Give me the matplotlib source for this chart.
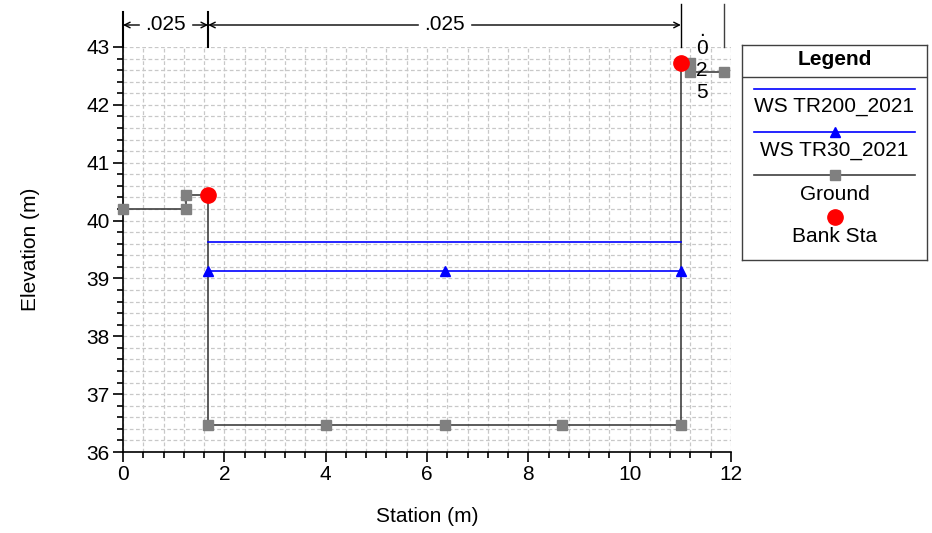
import matplotlib
matplotlib.use("Agg")
import matplotlib.pyplot as plt
from matplotlib.ticker import MultipleLocator

plt.rcParams['font.family'] = ['Liberation Sans', 'DejaVu Sans']

# Data
ground_x = [0.0, 1.25, 1.25, 1.68, 1.68, 4.01, 6.35, 8.67, 11.01, 11.01, 11.19, 11.19, 11.87]
ground_y = [40.20, 40.20, 40.44, 40.44, 36.47, 36.47, 36.47, 36.47, 36.47, 42.72, 42.72, 42.57, 42.57]
ws200_x = [1.68, 11.01]
ws200_y = [39.63, 39.63]
ws30_x = [1.68, 6.35, 11.01]
ws30_y = [39.13, 39.13, 39.13]
bank_x = [1.68, 11.01]
bank_y = [40.44, 42.72]
n_breaks = [0.0, 1.68, 11.01, 11.87]
n_labels = [".025", ".025", ".025"]
legend_labels = ["WS TR200_2021", "WS TR30_2021", "Ground", "Bank Sta"]

W, H = 932, 533
FS = 15
fig = plt.figure(figsize=(W/100, H/100), dpi=100)
ax = fig.add_axes([123/W, 1-452/H, (731-123)/W, (452-47)/H])

ax.plot(ground_x, ground_y, color='#404040', lw=1.2, zorder=3)
ax.plot(ground_x, ground_y, ls='none', marker='s', ms=7, color='#808080', zorder=4, clip_on=False)
ax.plot(ws200_x, ws200_y, color='#0000ff', lw=1.2, zorder=3)
ax.plot(ws30_x, ws30_y, color='#0000ff', lw=1.2, marker='^', ms=7, zorder=3, clip_on=False)
ax.plot(bank_x, bank_y, ls='none', marker='o', ms=11, color='#ff0000', zorder=5, clip_on=False)

ax.set_xlim(0, 12)
ax.set_ylim(36, 43)
ax.xaxis.set_major_locator(MultipleLocator(2))
ax.xaxis.set_minor_locator(MultipleLocator(0.4))
ax.yaxis.set_major_locator(MultipleLocator(1))
ax.yaxis.set_minor_locator(MultipleLocator(0.2))
ax.grid(True, which='both', color='#c8c8c8', ls='--', lw=0.9, dashes=(3, 2))
ax.set_axisbelow(True)
for s in ['top', 'right']:
    ax.spines[s].set_visible(False)
ax.spines['left'].set_linewidth(1.2)
ax.spines['bottom'].set_linewidth(1.2)
ax.tick_params(which='major', direction='out', length=7.5, width=1.2, labelsize=FS, pad=2)
ax.tick_params(which='minor', direction='out', length=4, width=1.2)
fig.text(427/W, 1-517/H, "Station (m)", ha='center', va='center', fontsize=FS)
fig.text(30/W, 1-249/H, "Elevation (m)", ha='center', va='center', fontsize=FS, rotation=90)

# Manning's n annotations above plot
trans = ax.get_xaxis_transform()
def ay(ypx):
    return (452 - ypx) / 405
ax.plot([0, 0], [1, ay(12)], transform=trans, color='black', lw=1.5, clip_on=False)
ax.plot([n_breaks[1]]*2, [1, ay(12)], transform=trans, color='black', lw=1.5, clip_on=False)
ax.plot([n_breaks[2]]*2, [1, ay(4)], transform=trans, color='black', lw=1.0, clip_on=False)
ax.plot([n_breaks[3]]*2, [1, ay(4)], transform=trans, color='#404040', lw=1.0, clip_on=False)
for i in range(2):
    x0, x1 = n_breaks[i], n_breaks[i+1]
    ax.annotate("", xy=(x0, ay(25)), xytext=(x1, ay(25)), xycoords=trans, textcoords=trans,
                arrowprops=dict(arrowstyle='<->', lw=1.0, color='black', shrinkA=0, shrinkB=0),
                annotation_clip=False)
    ax.text((x0+x1)/2, ay(25), n_labels[i], transform=trans, ha='center', va='center',
            fontsize=FS, backgroundcolor='white', clip_on=False, zorder=6)
for ch, ypx in zip(n_labels[2][:4], [30, 48, 70, 92]):
    ax.text(11.43, ay(ypx), ch, transform=trans, ha='center', va='center',
            fontsize=FS, clip_on=False, zorder=6)

# Legend box
lax = fig.add_axes([742/W, 1-260/H, (927-742)/W, (260-45)/H])
lax.set_xlim(0, 185)
lax.set_ylim(215, 0)
lax.set_xticks([]); lax.set_yticks([])
for s in lax.spines.values():
    s.set_linewidth(1.0)
    s.set_color('#404040')
lax.axhline(32, color='#404040', lw=1.0)
cx = 92.5
lax.text(cx, 15, "Legend", ha='center', va='center', fontsize=FS, fontweight='bold')
lax.plot([12, 173], [44, 44], color='#0000ff', lw=1.2)
lax.text(cx, 62, legend_labels[0], ha='center', va='center', fontsize=FS)
lax.plot([12, 173], [87, 87], color='#0000ff', lw=1.2)
lax.plot([cx], [87], marker='^', ms=7, color='#0000ff')
lax.text(cx, 106, legend_labels[1], ha='center', va='center', fontsize=FS)
lax.plot([12, 173], [130, 130], color='#404040', lw=1.2)
lax.plot([cx], [130], marker='s', ms=7, color='#808080')
lax.text(cx, 149, legend_labels[2], ha='center', va='center', fontsize=FS)
lax.plot([cx], [172], marker='o', ms=11, color='#ff0000')
lax.text(cx, 191, legend_labels[3], ha='center', va='center', fontsize=FS)

fig.savefig("out.png", dpi=100)
